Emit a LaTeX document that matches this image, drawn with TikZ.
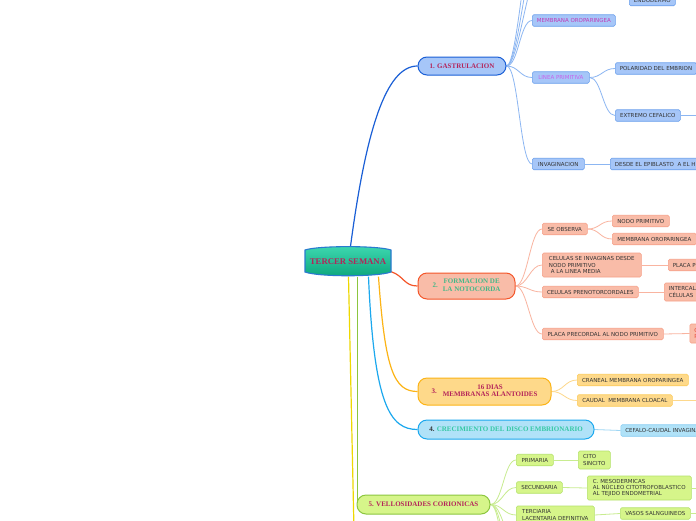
\documentclass[tikz,border=0pt]{standalone}
\usepackage{fontspec}
\newfontfamily\smf{DejaVu Sans}
\newfontfamily\mnf{Liberation Serif}
\usetikzlibrary{calc}
\definecolor{ctop}{HTML}{3ED8B0}
\definecolor{cbot}{HTML}{0CA67C}
\definecolor{cbd}{HTML}{2A7AD0}
\definecolor{crim}{HTML}{B4245A}
\definecolor{gB}{HTML}{1A5FD6}
\definecolor{gF}{HTML}{A6C6F8}
\definecolor{nB}{HTML}{F4562A}
\definecolor{nF}{HTML}{F9BCA8}
\definecolor{nT}{HTML}{44B888}
\definecolor{dB}{HTML}{FCB416}
\definecolor{dF}{HTML}{FED98A}
\definecolor{cB}{HTML}{1BA8EE}
\definecolor{cF}{HTML}{B0E2F8}
\definecolor{cT}{HTML}{36C8A4}
\definecolor{vB}{HTML}{8CC63F}
\definecolor{vF}{HTML}{D6F58A}
\definecolor{yB}{HTML}{EED800}
\definecolor{sbD}{HTML}{6A9FEC}
\definecolor{sbL}{HTML}{8CB6F2}
\definecolor{snD}{HTML}{F6A088}
\definecolor{snL}{HTML}{F9B4A0}
\definecolor{sdD}{HTML}{FCCB5A}
\definecolor{sdL}{HTML}{FDD88C}
\definecolor{scD}{HTML}{86CCF2}
\definecolor{scL}{HTML}{9ED6F4}
\definecolor{svD}{HTML}{B4E26A}
\definecolor{svL}{HTML}{C8EC90}
\definecolor{txt}{HTML}{333333}
\definecolor{magT}{HTML}{C23AB6}
\definecolor{vioT}{HTML}{C862EA}
\definecolor{redT}{HTML}{E8443A}
\pgfdeclarelayer{bg}
\pgfsetlayers{bg,main}
\begin{document}
\begin{tikzpicture}[x=1pt,y=-1pt,
 subbox/.style={draw, rounded corners=1.5pt, line width=0.6pt, inner xsep=3pt, inner ysep=1.2pt, minimum height=11.5pt, font=\fontsize{5.5}{6.4}\selectfont\smf, text=txt, anchor=west, align=left},
 cutbox/.style={inner xsep=4.5pt},
 subB/.style={subbox, fill=gF, draw=sbD},
 subN/.style={subbox, fill=nF, draw=snD},
 subD/.style={subbox, fill=dF, draw=sdD},
 subC/.style={subbox, fill=cF, draw=scD},
 subV/.style={subbox, fill=vF, draw=svD},
 mainbox/.style={draw, rounded corners=9pt, line width=1pt, inner sep=0pt, font=\fontsize{7}{7.8}\selectfont\mnf\bfseries, align=center},
 mline/.style={line width=1.2pt},
 lnB/.style={draw=sbL, line width=0.8pt},
 lnN/.style={draw=snL, line width=0.8pt},
 lnD/.style={draw=sdL, line width=0.8pt},
 lnC/.style={draw=scL, line width=0.8pt},
 lnV/.style={draw=svL, line width=0.8pt}
]
\useasboundingbox (0,0) rectangle (696,520);

% central topic
\shadedraw[top color=ctop, bottom color=cbot, draw=cbd, line width=1.1pt]
 (305,250) .. controls (318,245.5) and (378,245.5) .. (391,250) -- (391,272)
 .. controls (378,277) and (318,277) .. (305,272) -- cycle;
\node[minimum width=86pt, minimum height=30pt, inner sep=0pt, text=crim,
 font=\fontsize{8.7}{9}\selectfont\mnf\bfseries] (ts) at (348,261.5) {TERCER SEMANA};

% main topics
\node[mainbox, fill=gF, draw=gB, minimum width=88pt, minimum height=18pt, text=crim] (g) at (462,66) {1. GASTRULACION};
\node[mainbox, fill=nF, draw=nB, minimum width=97pt, minimum height=26pt, text=nT] (n) at (466.5,286)
 {\begin{tabular}{@{}c@{\hspace{5pt}}c@{}}2. & \begin{tabular}{@{}c@{}}FORMACION DE\\LA NOTOCORDA\end{tabular}\end{tabular}};
\node[mainbox, fill=dF, draw=dB, minimum width=133pt, minimum height=27pt, text=crim] (d) at (484.5,391.5)
 {\begin{tabular}{@{}c@{\hspace{6pt}}c@{}}3. & \begin{tabular}{@{}c@{}}16 DIAS\\MEMBRANAS ALANTOIDES\end{tabular}\end{tabular}};
\node[mainbox, fill=cF, draw=cB, minimum width=176pt, minimum height=19pt] (c) at (506,429.5)
 {{\color{txt}4.} {\color{cT}CRECIMIENTO DEL DISCO EMBRIONARIO}};
\node[mainbox, fill=vF, draw=vB, minimum width=133pt, minimum height=19pt, text=crim] (v) at (423.5,504.5) {5. VELLOSIDADES CORIONICAS};

% gastrulacion subtopics
\node[subB, minimum width=46pt] (endo) at (629,0) {ENDODERMO};
\node[subB, minimum width=83pt, text=magT] (mo1) at (532,20.5) {MEMBRANA OROPARINGEA};
\node[subB, minimum width=57pt, text=vioT] (lp) at (532,77.5) {LINEA PRIMITIVA};
\node[subB, cutbox] (pol) at (615,68.5) {POLARIDAD DEL EMBRION};
\node[subB, minimum width=65pt] (ext) at (615,115.5) {EXTREMO CEFALICO};
\node[subB, minimum width=52pt] (inv) at (532,164) {INVAGINACION};
\node[subB, cutbox] (des) at (610,164) {DESDE EL EPIBLASTO\ \ A EL HIPOBLASTO};

% notocorda subtopics
\node[subN, minimum width=45pt] (so) at (542,229) {SE OBSERVA};
\node[subN, minimum width=57pt] (np) at (612,221) {NODO PRIMITIVO};
\node[subN, minimum width=84pt] (mo2) at (612,239) {MEMBRANA OROPARINGEA};
\node[subN, minimum width=99pt, minimum height=24pt] (cel) at (542,265)
 {CELULAS SE INVAGINAS DESDE\\NODO PRIMITIVO\\\hspace*{2pt}A LA LINEA MEDIA};
\node[subN, cutbox] (pla) at (668,265) {PLACA PRECORDAL};
\node[subN, cutbox, minimum height=18pt] (int) at (664,292) {INTERCALADAS\\CÉLULAS};
\node[subN, minimum width=96pt] (pre) at (542,292) {CELULAS PRENOTORCORDALES};
\node[subN, minimum width=121pt] (ppn) at (542,334) {PLACA PRECORDAL AL NODO PRIMITIVO};
\node[subN, cutbox, minimum height=19pt, text=redT] (cp) at (689.5,333.5) {CORDAL\\PROCESO};

% 16 dias subtopics
\node[subD, minimum width=111pt] (cra) at (577,380) {CRANEAL MEMBRANA OROPARINGEA};
\node[subD, minimum width=95pt] (cau) at (577,400.5) {CAUDAL\ \ MEMBRANA CLOACAL};

% crecimiento subtopic
\node[subC, cutbox] (cef) at (620.5,430.5) {CEFALO-CAUDAL INVAGINACION};

% vellosidades subtopics
\node[subV, minimum width=37pt] (pri) at (516,460) {PRIMARIA};
\node[subV, minimum width=32pt, minimum height=18pt] (cito) at (578,460) {CITO\\SINCITO};
\node[subV, minimum width=46pt] (sec) at (516,487.5) {SECUNDARIA};
\node[subV, minimum width=104pt, minimum height=24pt] (mes) at (587,488)
 {C. MESODERMICAS\\AL NÚCLEO CITOTROFOBLASTICO\\AL TEJIDO ENDOMETRIAL};
\node[subV, minimum width=78pt, minimum height=18pt] (ter) at (516,515) {TERCIARIA\\LACENTARIA DEFINITIVA};
\node[subV, minimum width=70pt] (vas) at (620,513.5) {VASOS SALNGUINEOS};

% off-picture ends
\coordinate (gu1) at (540,-30);
\coordinate (gu2) at (540,-60);
\coordinate (gu3) at (540,-100);
\coordinate (extR) at (730,115.5);
\coordinate (cauR) at (730,400.5);
\coordinate (mesR) at (730,488);
\coordinate (vasR) at (730,513.5);
\coordinate (vd1) at (516,540);
\coordinate (vd2) at (516,568);
\coordinate (vd3) at (516,600);
\coordinate (yel) at (355.5,600);

\begin{pgfonlayer}{bg}
\fill[white] (0,0) rectangle (696,520);
% main connectors
\draw[mline, gB] ([xshift=2.5pt]ts.north) .. controls (366,130) and (386,66) .. (g.west);
\draw[mline, nB] ([yshift=5pt]ts.south east) .. controls (404,276) and (404,286) .. (n.west);
\draw[mline, dB] ([xshift=30.5pt]ts.south) .. controls (385,370) and (394,391.5) .. (d.west);
\draw[mline, cB] ([xshift=20.5pt]ts.south) .. controls (374,405) and (390,429.5) .. (c.west);
\draw[mline, vB] ([xshift=9.5pt]ts.south) -- ([xshift=9.5pt]ts.south |- v.west);
\draw[mline, yB] ([xshift=0.5pt]ts.south) -- (yel);

% gastrulacion
\draw[lnB] (g.east) .. controls +(12,0) and +(-12,0) .. (gu1);
\draw[lnB] (g.east) .. controls +(12,0) and +(-12,0) .. (gu2);
\draw[lnB] (g.east) .. controls +(12,0) and +(-12,0) .. (gu3);
\draw[lnB] (g.east) .. controls +(12,0) and +(-12,0) .. (mo1.west);
\draw[lnB] (g.east) .. controls +(12,0) and +(-12,0) .. (lp.west);
\draw[lnB] (g.east) .. controls +(12,0) and +(-12,0) .. (inv.west);
\draw[lnB] (lp.east) .. controls +(12,0) and +(-12,0) .. (pol.west);
\draw[lnB] (lp.east) .. controls +(12,0) and +(-12,0) .. (ext.west);
\draw[lnB] (ext.east) -- (extR);
\draw[lnB] (inv.east) -- (des.west);

% notocorda
\draw[lnN] (n.east) .. controls +(12,0) and +(-12,0) .. (so.west);
\draw[lnN] (n.east) .. controls +(12,0) and +(-12,0) .. (cel.west);
\draw[lnN] (n.east) .. controls +(12,0) and +(-12,0) .. (pre.west);
\draw[lnN] (n.east) .. controls +(12,0) and +(-12,0) .. (ppn.west);
\draw[lnN] (so.east) .. controls +(12,0) and +(-12,0) .. (np.west);
\draw[lnN] (so.east) .. controls +(12,0) and +(-12,0) .. (mo2.west);
\draw[lnN] (cel.east) -- (pla.west);
\draw[lnN] (pre.east) -- (int.west);
\draw[lnN] (ppn.east) -- (cp.west);

% 16 dias
\draw[lnD] (d.east) .. controls +(12,0) and +(-12,0) .. (cra.west);
\draw[lnD] (d.east) .. controls +(12,0) and +(-12,0) .. (cau.west);
\draw[lnD] (cau.east) -- (cauR);

% crecimiento
\draw[lnC] (c.east) -- (cef.west);

% vellosidades
\draw[lnV] (v.east) .. controls +(12,0) and +(-12,0) .. (pri.west);
\draw[lnV] (v.east) .. controls +(12,0) and +(-12,0) .. (sec.west);
\draw[lnV] (v.east) .. controls +(12,0) and +(-12,0) .. (ter.west);
\draw[lnV] (v.east) .. controls +(12,0) and +(-12,0) .. (vd1);
\draw[lnV] (v.east) .. controls +(12,0) and +(-12,0) .. (vd2);
\draw[lnV] (v.east) .. controls +(12,0) and +(-12,0) .. (vd3);
\draw[lnV] (pri.east) -- (cito.west);
\draw[lnV] (sec.east) -- (mes.west);
\draw[lnV] (mes.east) -- (mesR);
\draw[lnV] (ter.east) -- (vas.west);
\draw[lnV] (vas.east) -- (vasR);
\end{pgfonlayer}
\end{tikzpicture}
\end{document}
